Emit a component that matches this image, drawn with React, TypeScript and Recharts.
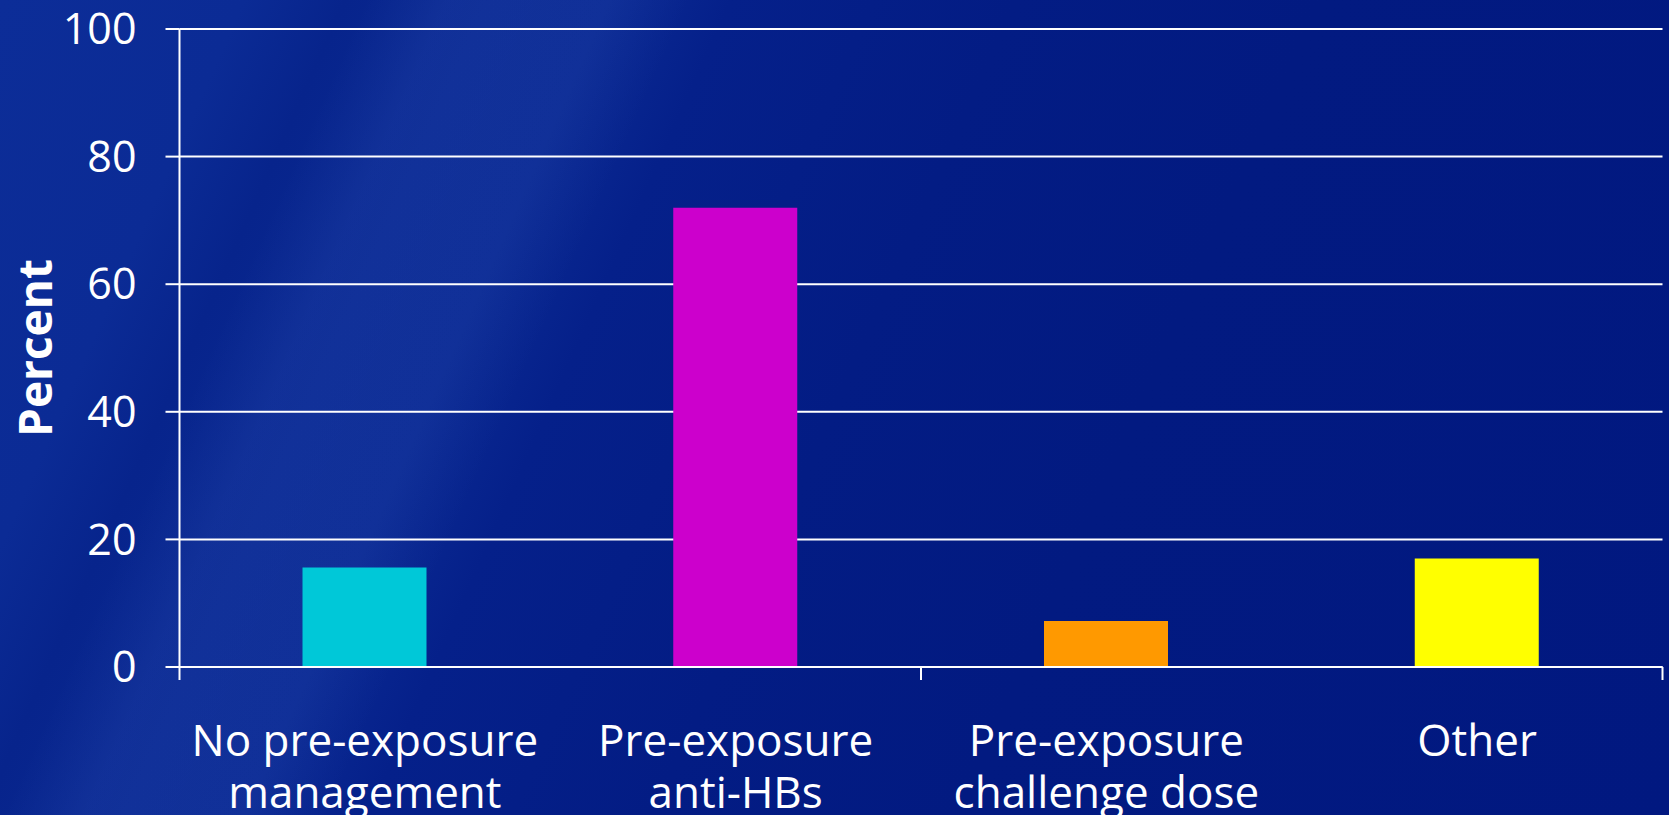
import React from 'react';
import { BarChart, Bar, XAxis, YAxis, CartesianGrid, Cell, Label } from 'recharts';

// Survey categories (line breaks mark the wrapped tick labels)
const categories = [
  'No pre-exposure\nmanagement',
  'Pre-exposure\nanti-HBs',
  'Pre-exposure\nchallenge dose',
  'Other',
];
const percentValues = [15.6, 72, 7.2, 17];
const barColors = ['#00C8D8', '#CC00CC', '#FF9900', '#FFFF00'];
const yTicks = [0, 20, 40, 60, 80, 100];
// Tick marks on the category axis fall on every second group boundary
const groupEdges = [0, 2, 4];

const data = categories.map((category, i) => ({
  category,
  percent: percentValues[i],
  edge: i,
}));

const FONT = "'Open Sans', 'Noto Sans', sans-serif";

function CategoryTick(props: any) {
  const { x, y, payload } = props;
  const lines = String(payload.value).split('\n');
  return (
    <text x={x} y={y} textAnchor="middle" fill="#ffffff" fontSize={44} fontFamily={FONT}>
      {lines.map((line, i) => (
        <tspan key={i} x={x} dy={i === 0 ? 75 : 52}>
          {line}
        </tspan>
      ))}
    </text>
  );
}

const EmptyTick = () => <g />;

function PercentLabel(props: any) {
  const { viewBox } = props;
  const cy = viewBox.y + viewBox.height / 2;
  const bx = 52;
  return (
    <text
      x={bx}
      y={cy}
      transform={`rotate(-90, ${bx}, ${cy})`}
      textAnchor="middle"
      fill="#ffffff"
      fontSize={46}
      fontWeight={700}
      fontFamily={FONT}
    >
      Percent
    </text>
  );
}

const background = [
  'linear-gradient(114deg, rgba(255,255,255,0) 18%, rgba(120,160,255,0.07) 22%, rgba(120,160,255,0.05) 30%, rgba(255,255,255,0) 34%)',
  'linear-gradient(114deg, #0c2d98 0%, #0b2b95 12%, #07248c 17%, #0a2992 24%, #0b2a93 30%, #05208a 36%, #031c84 50%, #021a81 65%, #011880 100%)',
].join(', ');

export default function App() {
  return (
    <div
      style={{
        position: 'absolute',
        left: 0,
        top: 0,
        width: 1669,
        height: 815,
        background,
        overflow: 'hidden',
      }}
    >
      <BarChart
        width={1669}
        height={815}
        data={data}
        margin={{ top: 29, right: 6.5, bottom: 0, left: 0 }}
      >
        <CartesianGrid horizontal vertical={false} stroke="#ffffff" strokeWidth={2} />
        <XAxis
          xAxisId="b_cat"
          dataKey="category"
          height={134}
          interval={0}
          tickSize={0}
          tickMargin={0}
          tickLine={false}
          axisLine={false}
          tick={(p: any) => <CategoryTick {...p} />}
        />
        <XAxis
          xAxisId="a_edges"
          type="number"
          dataKey="edge"
          domain={[0, 4]}
          allowDataOverflow
          ticks={groupEdges}
          interval={0}
          height={14}
          axisLine={{ stroke: '#ffffff', strokeWidth: 2 }}
          tick={EmptyTick}
          tickSize={13}
          tickLine={{ stroke: '#ffffff', strokeWidth: 2 }}
        />
        <YAxis
          domain={[0, 100]}
          ticks={yTicks}
          width={179.5}
          tickSize={14}
          tickMargin={29}
          axisLine={{ stroke: '#ffffff', strokeWidth: 2 }}
          tickLine={{ stroke: '#ffffff', strokeWidth: 2 }}
          tick={{ fill: '#ffffff', fontSize: 43, fontFamily: FONT }}
        >
          <Label content={(p: any) => <PercentLabel {...p} />} />
        </YAxis>
        <Bar xAxisId="b_cat" dataKey="percent" barSize={124} isAnimationActive={false}>
          {data.map((d, i) => (
            <Cell key={d.category} fill={barColors[i]} />
          ))}
        </Bar>
      </BarChart>
    </div>
  );
}
